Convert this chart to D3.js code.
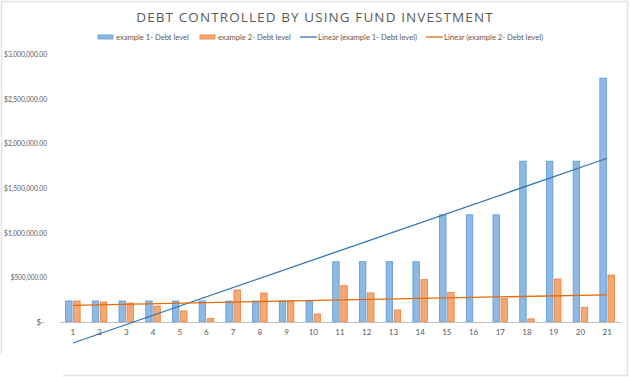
<!DOCTYPE html>
<html>
<head>
	<meta charset="UTF-8" />
	<title>debt controlled by using fund investment</title>
	<script src="https://d3js.org/d3.v7.min.js"></script>
	<style>
		body { margin:0; background:#fff; }
		text { font-family: Lato, "Open Sans", sans-serif; fill:#595959; }
	</style>
</head>
<body>
	<svg id="chart" width="630" height="377"></svg>

	<script type="text/javascript">
	// data
	var periods = d3.range(1, 22).map(String)
	var debt1 = [235000,235000,235000,235000,235000,235000,235000,235000,235000,235000,
				675000,675000,675000,675000,1200000,1200000,1200000,1800000,1800000,1800000,2730000]
	var debt2 = [235000,224000,213000,179000,123000,41000,358000,325000,235000,90000,
				407000,325000,134000,474000,332000,0,265000,34000,481000,164000,526000]
	var yTicks = [0,500000,1000000,1500000,2000000,2500000,3000000]
	var seriesNames = ["example 1- Debt level", "example 2- Debt level"]

	// colors
	blueFill = "#8fb9e2"
	blueLine = "#5b9bd5"
	blueTrend = "#2e75b6"
	orangeFill = "#f4a875"
	orangeLine = "#ed7d31"
	orangeTrend = "#e46c0a"

	var svg = d3.select("#chart")

	// light frame round the chart
	svg.append("path").attr("d", "M1.5,355 V1.5 H627.5 V375.5 H63")
		.style("fill", "none").style("stroke", "#e2e2e2").style("stroke-width", "1.5px")

	svg.append("text").attr("x", 315).attr("y", 22)
		.attr("text-anchor", "middle")
		.style("font-family", "'Open Sans', sans-serif")
		.style("font-size", "13.5px").style("letter-spacing", "1.1px")
		.text("DEBT CONTROLLED BY USING FUND INVESTMENT")

	var x = d3.scaleBand().domain(periods).range([59.5, 620.5])
	var yScale = d3.scaleLinear().domain([0, 3000000]).range([322, 54])

	// bars sit inside the band with excel-like gap
	var inner = d3.scaleBand().domain([0,1]).range([0, x.bandwidth()]).paddingInner(0.2).paddingOuter(0.75)

	var groups = svg.selectAll("g.period")
		.data(periods)
		.enter()
		.append("g")
		.attr("class", "period")
		.attr("transform", d=>`translate(${x(d)},0)`)

	groups.append("rect")
		.attr("x", inner(0)).attr("width", inner.bandwidth())
		.attr("y", (d,i)=>yScale(debt1[i])).attr("height", (d,i)=>yScale(0)-yScale(debt1[i]))
		.style("fill", blueFill).style("stroke", blueLine).style("stroke-width", "0.8px")

	groups.append("rect")
		.attr("x", inner(1)).attr("width", inner.bandwidth())
		.attr("y", (d,i)=>yScale(debt2[i])).attr("height", (d,i)=>yScale(0)-yScale(debt2[i]))
		.style("fill", orangeFill).style("stroke", orangeLine).style("stroke-width", "0.8px")
		.style("display", (d,i)=>debt2[i] > 0 ? null : "none")

	// y axis labels, accounting style
	var yFmt = d=> d === 0 ? "$-" : "$" + d3.format(",.2f")(d)
	var yAxis = d3.axisLeft(yScale).tickValues(yTicks).tickSize(0).tickFormat(yFmt)
	var ya = svg.append("g").attr("transform", "translate(50,0)").call(yAxis)
	ya.select(".domain").remove()
	ya.selectAll("text").style("font-size", "8px").style("fill", "#595959")
		.style("font-family", "Lato, sans-serif")
		.attr("dx", d=> d === 0 ? -3 : 0)
		// squeeze to the narrow look of the original labels
		.filter(d=>d !== 0)
		.attr("textLength", d=>yFmt(d).length * 3.3)
		.attr("lengthAdjust", "spacingAndGlyphs")

	// x axis
	var xAxis = d3.axisBottom(x).tickSize(0).tickPadding(7)
	var xa = svg.append("g").attr("transform", "translate(0,322)").call(xAxis)
	xa.select(".domain").style("stroke", "#bfbfbf")
	xa.selectAll("text").style("font-size", "8px").style("fill", "#595959")
		.style("font-family", "Lato, sans-serif")

	// linear trend lines from least squares fit
	function fit(vals) {
		var xs = vals.map((v,i)=>i+1)
		var mx = d3.mean(xs), my = d3.mean(vals)
		var b = d3.sum(xs, (xv,i)=>(xv-mx)*(vals[i]-my)) / d3.sum(xs, xv=>(xv-mx)*(xv-mx))
		var a = my - b*mx
		return [1, vals.length].map(k=>[k, a + b*k])
	}
	var line = d3.line()
		.x(d=>x(String(d[0])) + x.bandwidth()/2)
		.y(d=>yScale(d[1]))

	svg.append("path").attr("d", line(fit(debt1)))
		.style("fill", "none").style("stroke", blueTrend).style("stroke-width", "1.3px")
	svg.append("path").attr("d", line(fit(debt2)))
		.style("fill", "none").style("stroke", orangeTrend).style("stroke-width", "1.3px")

	// legend
	var legendItems = [
		{name: seriesNames[0], kind: "bar", fill: blueFill, stroke: blueLine, x: 98},
		{name: seriesNames[1], kind: "bar", fill: orangeFill, stroke: orangeLine, x: 200},
		{name: "Linear (" + seriesNames[0] + ")", kind: "line", stroke: blueTrend, x: 300},
		{name: "Linear (" + seriesNames[1] + ")", kind: "line", stroke: orangeTrend, x: 426}
	]
	var lg = svg.selectAll("g.legend").data(legendItems).enter()
		.append("g").attr("class", "legend")
		.attr("transform", d=>`translate(${d.x},37)`)
	lg.filter(d=>d.kind === "bar").append("rect")
		.attr("x", 0).attr("y", -2).attr("width", 15).attr("height", 4)
		.style("fill", d=>d.fill).style("stroke", d=>d.stroke).style("stroke-width", "0.8px")
	lg.filter(d=>d.kind === "line").append("line")
		.attr("x1", 0).attr("x2", 17).attr("y1", 0).attr("y2", 0)
		.style("stroke", d=>d.stroke).style("stroke-width", "1.3px")
	lg.append("text")
		.attr("x", 18).attr("y", 3)
		.style("font-size", "7.6px")
		.text(d=>d.name)
	</script>
</body>
</html>
